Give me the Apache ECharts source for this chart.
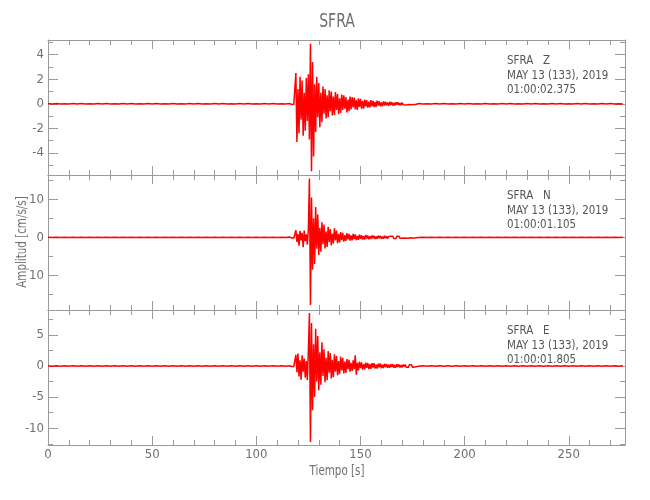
<!DOCTYPE html>
<html><head><meta charset="utf-8">
<script src="https://cdn.jsdelivr.net/npm/echarts@6/dist/echarts.min.js"></script>
<style>html,body{margin:0;padding:0;background:#fff}#c{width:650px;height:500px}</style>
</head><body><div id="c"></div>
<script>
// ---------- DATA ----------
const station = 'SFRA';
const components = ['Z', 'N', 'E'];
const dateLine = 'MAY 13 (133), 2019';
const startTimes = ['01:00:02.375', '01:00:01.105', '01:00:01.805'];
const xTitle = 'Tiempo [s]';
const yTitle = 'Amplitud [cm/s/s]';
const timeRange = [0, 277];
const xTickStep = 50;
const xTickLabels = [0, 50, 100, 150, 200, 250];

// sample timing of the hand-read traces (seconds)
const preStart = 0, preStep = 2;         // quiet part before the event
const eventStart = 117, eventStep = 0.5; // event window 117 .. 176.5 s
const postStart = 178, postStep = 2;     // quiet part after the event

// Z component
const zRange = [-5.8, 5.2];
const zTicks = [-4, -2, 0, 2, 4];
const zTickLabels = ['-4', '-2', '0', '2', '4'];
const zMinorTicks = [-5, -3, -1, 1, 3, 5];
const zPre = [
 0.02,-0.015,0.02,-0.02,0.015,-0.02,0.02,-0.015,0.02,-0.02,
 0.015,-0.02,0.02,-0.015,0.02,-0.02,0.015,-0.02,0.02,-0.015,
 0.02,-0.02,0.015,-0.02,0.02,-0.015,0.02,-0.02,0.015,-0.02,
 0.02,-0.02,0.015,-0.02,0.02,-0.015,0.02,-0.02,0.015,-0.02,
 0.02,-0.015,0.02,-0.02,0.015,-0.02,0.02,-0.015,0.02,-0.02,
 0.015,-0.02,0.02,-0.015,0.02,-0.02,0.015,-0.02,0.02];
const zEvent = [
 -0.05,0.06,-0.04,0.05,2.5,-3.1,1.2,-2.4,2.2,-1.3,     // 117
 1.9,-2.6,0.9,-2.2,2.1,-1.4,2.4,-2.9,4.9,-5.5,         // 122
 3.4,-4.3,1.6,-2.3,2.2,-1.1,1.7,-1.9,0.9,-1.5,         // 127
 1.4,-0.8,1.2,-1.2,0.7,-1.1,1.1,-0.6,1.0,-0.95,        // 132
 0.6,-0.9,0.95,-0.5,0.8,-0.85,0.45,-0.75,0.75,-0.5,    // 137
 0.7,-0.4,0.55,-0.7,0.35,-0.6,0.6,-0.45,0.55,-0.3,     // 142
 0.5,-0.45,0.3,-0.5,0.45,-0.25,0.4,-0.4,0.25,-0.4,     // 147
 0.35,-0.2,0.3,-0.32,0.18,-0.3,0.3,-0.2,0.25,-0.27,    // 152
 0.15,-0.25,0.25,-0.15,0.22,-0.2,0.12,-0.2,0.2,-0.14,  // 157
 0.18,-0.12,0.1,-0.17,0.16,-0.1,0.14,-0.15,0.09,-0.14, // 162
 0.13,-0.08,0.12,-0.12,0.07,-0.11,0.1,-0.07,0.09,-0.1, // 167
 0.06,-0.08,0.08,-0.05,0.07,-0.07,0.05,-0.06,0.06,-0.05]; // 172
const zPost = [
 0.02,-0.02,0.015,-0.02,0.02,-0.015,0.02,-0.02,0.015,-0.02,
 0.02,-0.015,0.02,-0.02,0.015,-0.02,0.02,-0.02,0.015,-0.02,
 0.02,-0.015,0.02,-0.02,0.015,-0.02,0.02,-0.015,0.02,-0.02,
 0.015,-0.02,0.02,-0.015,0.02,-0.02,0.015,-0.02,0.02,-0.015,
 0.02,-0.02,0.015,-0.02,0.02,-0.015,0.02,-0.02,0.015,-0.02];

// N component
const nRange = [-19.1, 16.4];
const nTicks = [-10, 0, 10];
const nTickLabels = ['10', '0', '10'];
const nMinorTicks = [-15, -5, 5, 15];
const nPre = [
 0.06,-0.05,0.06,-0.06,0.05,-0.06,0.06,-0.05,0.06,-0.06,
 0.05,-0.06,0.06,-0.05,0.06,-0.06,0.05,-0.06,0.06,-0.05,
 0.06,-0.06,0.05,-0.06,0.06,-0.05,0.06,-0.06,0.05,-0.06,
 0.06,-0.06,0.05,-0.06,0.06,-0.05,0.06,-0.06,0.05,-0.06,
 0.06,-0.05,0.06,-0.06,0.05,-0.06,0.06,-0.05,0.06,-0.06,
 0.05,-0.06,0.06,-0.05,0.06,-0.06,0.05,-0.06,0.06];
const nEvent = [
 -0.15,0.12,-0.14,0.16,1.9,-1.2,0.9,-2.2,1.7,-0.8,     // 117
 1.2,-2.6,1.8,-1.0,0.8,-1.9,2.2,15.5,-17.8,10.5,       // 122
 -8.5,5.0,-7.0,8.0,-3.0,6.0,-4.6,2.5,-3.8,4.0,         // 127
 -1.8,3.4,-2.9,1.5,-2.5,2.8,-1.2,2.2,-2.1,1.0,         // 132
 -1.6,2.4,-0.8,1.8,-1.5,0.9,-1.3,1.4,-0.7,1.2,         // 137
 -1.1,0.6,-0.9,1.1,-0.5,0.9,-0.85,0.5,-0.8,0.9,        // 142
 -0.45,0.8,-0.7,0.4,-0.65,0.7,-0.35,0.6,-0.6,0.3,      // 147
 -0.55,0.6,-0.3,0.5,-0.5,0.3,-0.45,0.5,-0.25,0.45,     // 152
 -0.45,0.25,-0.4,0.45,-0.22,0.4,-0.38,0.2,-0.35,0.4,   // 157
 -0.2,0.35,-0.35,0.2,-0.32,0.3,-0.18,0.32,-0.3,0.18,   // 162
 -0.3,0.28,-0.16,0.27,-0.26,0.15,-0.25,0.24,-0.15,0.22, // 167
 -0.22,0.14,-0.2,0.2,-0.13,0.19,-0.18,0.12,-0.17,0.15]; // 172
const nPost = [
 -0.06,0.05,-0.06,0.06,-0.05,0.06,-0.06,0.05,-0.06,0.06,
 -0.05,0.06,-0.06,0.05,-0.06,0.06,-0.05,0.06,-0.06,0.05,
 -0.06,0.06,-0.05,0.06,-0.06,0.05,-0.06,0.06,-0.05,0.06,
 -0.06,0.05,-0.06,0.06,-0.05,0.06,-0.06,0.05,-0.06,0.06,
 -0.05,0.06,-0.06,0.05,-0.06,0.06,-0.05,0.06,-0.06,0.05];

// E component
const eRange = [-12.7, 9.0];
const eTicks = [-10, -5, 0, 5];
const eTickLabels = ['-10', '-5', '0', '5'];
const eMinorTicks = [-12.5, -7.5, -2.5, 2.5, 7.5];
const ePre = [
 0.04,-0.03,0.04,-0.04,0.03,-0.04,0.04,-0.03,0.04,-0.04,
 0.03,-0.04,0.04,-0.03,0.04,-0.04,0.03,-0.04,0.04,-0.03,
 0.04,-0.04,0.03,-0.04,0.04,-0.03,0.04,-0.04,0.03,-0.04,
 0.04,-0.04,0.03,-0.04,0.04,-0.03,0.04,-0.04,0.03,-0.04,
 0.04,-0.03,0.04,-0.04,0.03,-0.04,0.04,-0.03,0.04,-0.04,
 0.03,-0.04,0.04,-0.03,0.04,-0.04,0.03,-0.04,0.04];
const eEvent = [
 -0.08,0.1,-0.07,0.09,1.8,-1.0,2.0,-1.7,0.9,-2.2,      // 117
 1.7,-0.9,1.2,-1.9,0.8,-2.3,2.5,8.5,-12.2,6.9,         // 122
 -7.1,3.5,-5.0,6.0,-2.5,4.8,-3.9,2.2,-3.0,3.8,         // 127
 -1.6,2.7,-2.6,1.3,-2.3,2.4,-1.1,2.1,-2.0,1.0,         // 132
 -1.8,1.9,-0.9,1.6,-1.5,0.8,-1.3,1.5,-0.7,1.3,         // 137
 -1.2,0.7,-1.1,1.1,-0.5,1.0,-0.9,0.5,-0.8,0.9,         // 142
 -0.5,1.7,-1.4,0.5,-0.7,0.7,-0.35,0.6,-0.6,0.3,        // 147
 -0.55,0.55,-0.3,0.5,-0.5,0.3,-0.45,0.45,-0.25,0.45,   // 152
 -0.4,0.2,-0.4,0.38,-0.2,0.4,-0.35,0.2,-0.33,0.35,     // 157
 -0.18,0.33,-0.3,0.18,-0.3,0.3,-0.15,0.3,-0.27,0.15,   // 162
 -0.26,0.27,-0.14,0.26,-0.24,0.13,-0.23,0.24,-0.12,0.23, // 167
 -0.2,0.12,-0.2,0.19,-0.11,0.19,-0.18,0.1,-0.16,0.14]; // 172
const ePost = [
 -0.04,0.03,-0.04,0.04,-0.03,0.04,-0.04,0.03,-0.04,0.04,
 -0.03,0.04,-0.04,0.03,-0.04,0.04,-0.03,0.04,-0.04,0.03,
 -0.04,0.04,-0.03,0.04,-0.04,0.03,-0.04,0.04,-0.03,0.04,
 -0.04,0.03,-0.04,0.04,-0.03,0.04,-0.04,0.03,-0.04,0.04,
 -0.03,0.04,-0.04,0.03,-0.04,0.04,-0.03,0.04,-0.04,0.03];

// ---------- STYLE / LAYOUT ----------
const FONT = "'DejaVu Sans Condensed','DejaVu Sans',sans-serif";
const axisColor = '#9a9a9a';
const labelColor = '#707070';
const textColor = '#555555';
const traceColor = '#ff0000';
const plotLeft = 48, plotRight = 25, panelH = 135;
const panelTops = [40, 175, 310];

const panels = [
  {pre: zPre, ev: zEvent, post: zPost, range: zRange, ticks: zTicks, labels: zTickLabels, minor: zMinorTicks},
  {pre: nPre, ev: nEvent, post: nPost, range: nRange, ticks: nTicks, labels: nTickLabels, minor: nMinorTicks},
  {pre: ePre, ev: eEvent, post: ePost, range: eRange, ticks: eTicks, labels: eTickLabels, minor: eMinorTicks}
];

function buildTrace(p) {
  const d = [];
  p.pre.forEach((v, k) => d.push([preStart + k * preStep, v]));
  p.ev.forEach((v, k) => d.push([eventStart + k * eventStep, v]));
  p.post.forEach((v, k) => d.push([postStart + k * postStep, v]));
  return d;
}

const grids = [], xAxes = [], yAxes = [], series = [], graphics = [];
panels.forEach((p, i) => {
  grids.push({left: plotLeft, right: plotRight, top: panelTops[i], height: panelH, containLabel: false});
  const xBase = {
    type: 'value', gridIndex: i, min: timeRange[0], max: timeRange[1], interval: xTickStep,
    axisLine: {show: true, onZero: false, lineStyle: {color: axisColor, width: 1}},
    axisTick: {show: true, inside: true, length: 9, lineStyle: {color: axisColor, width: 1}},
    minorTick: {show: true, splitNumber: 5, length: 5, lineStyle: {color: axisColor, width: 1}},
    splitLine: {show: false}, minorSplitLine: {show: false}
  };
  xAxes.push(Object.assign({}, xBase, {
    position: 'bottom',
    axisLabel: i === 2 ? {show: true, customValues: xTickLabels, color: labelColor, fontFamily: FONT, fontSize: 13, margin: 3} : {show: false}
  }));
  xAxes.push(Object.assign({}, xBase, {position: 'top', axisLabel: {show: false}}));

  const yBase = {
    type: 'value', gridIndex: i, min: p.range[0], max: p.range[1],
    splitLine: {show: false}, minorSplitLine: {show: false}
  };
  const fmt = (v) => { const k = p.ticks.indexOf(v); return k >= 0 ? p.labels[k] : ''; };
  yAxes.push(Object.assign({}, yBase, {
    position: 'left',
    axisLine: {show: true, onZero: false, lineStyle: {color: axisColor, width: 1}},
    axisTick: {show: true, inside: true, length: 10, customValues: p.ticks, lineStyle: {color: axisColor}},
    axisLabel: {show: true, customValues: p.ticks, formatter: fmt, color: labelColor, fontFamily: FONT, fontSize: 13, margin: 4}
  }));
  yAxes.push(Object.assign({}, yBase, {
    position: 'left',
    axisLine: {show: false, onZero: false},
    axisTick: {show: true, inside: true, length: 5, customValues: p.minor, lineStyle: {color: axisColor}},
    axisLabel: {show: false}
  }));
  yAxes.push(Object.assign({}, yBase, {
    position: 'right',
    axisLine: {show: true, onZero: false, lineStyle: {color: axisColor, width: 1}},
    axisTick: {show: true, inside: true, length: 10, customValues: p.ticks, lineStyle: {color: axisColor}},
    axisLabel: {show: false}
  }));
  yAxes.push(Object.assign({}, yBase, {
    position: 'right',
    axisLine: {show: false, onZero: false},
    axisTick: {show: true, inside: true, length: 5, customValues: p.minor, lineStyle: {color: axisColor}},
    axisLabel: {show: false}
  }));

  series.push({
    type: 'line', xAxisIndex: 2 * i, yAxisIndex: 4 * i,
    data: buildTrace(p), showSymbol: false, symbol: 'none', sampling: null,
    lineStyle: {color: traceColor, width: 1.5, join: 'miter', miterLimit: 2}, clip: true, silent: true, animation: false
  });

  const top = panelTops[i];
  const lines = [station + '   ' + components[i], dateLine, startTimes[i]];
  const offs = [21, 35.5, 50];
  lines.forEach((t, k) => graphics.push({
    type: 'text', x: 507, y: top + offs[k], scaleX: 0.88, silent: true,
    style: {text: t, fill: textColor, fontFamily: FONT, fontSize: 13, align: 'left', verticalAlign: 'middle'}
  }));
});

graphics.push({type: 'text', x: 337, y: 22, scaleX: 0.78, silent: true,
  style: {text: station, fill: labelColor, fontFamily: FONT, fontSize: 20, align: 'center', verticalAlign: 'middle'}});
graphics.push({type: 'text', x: 337, y: 471, scaleX: 0.82, silent: true,
  style: {text: xTitle, fill: labelColor, fontFamily: FONT, fontSize: 14, align: 'center', verticalAlign: 'middle'}});
graphics.push({type: 'text', x: 22, y: 242, rotation: Math.PI / 2, scaleX: 0.82, silent: true,
  style: {text: yTitle, fill: labelColor, fontFamily: FONT, fontSize: 14, align: 'center', verticalAlign: 'middle'}});

const chart = echarts.init(document.getElementById('c'), null, {renderer: 'canvas'});
chart.setOption({
  animation: false,
  backgroundColor: '#ffffff',
  grid: grids, xAxis: xAxes, yAxis: yAxes, series: series, graphic: graphics
});
</script></body></html>
